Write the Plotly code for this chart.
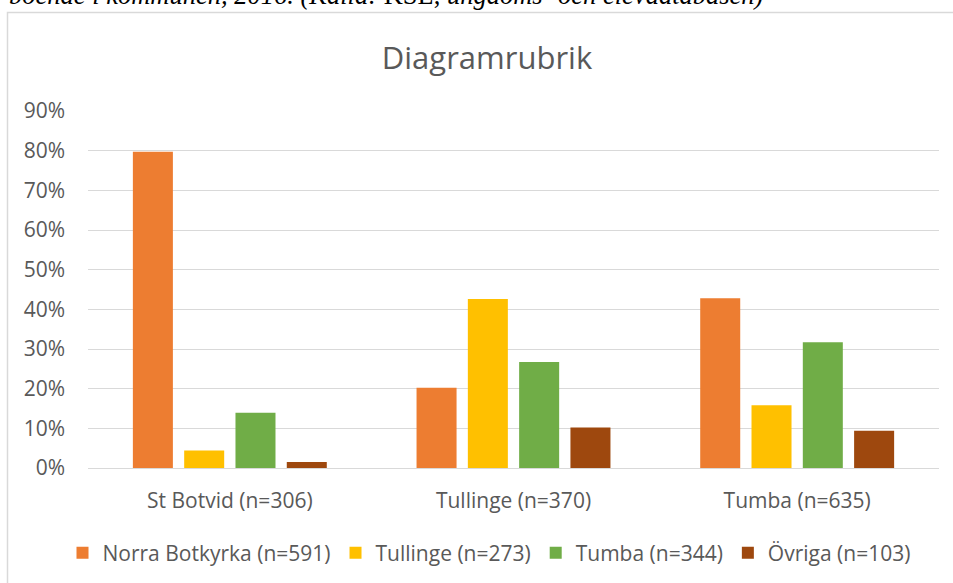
import plotly.graph_objects as go

categories = ["St Botvid (n=306)", "Tullinge (n=370)", "Tumba (n=635)"]
series_names = ["Norra Botkyrka (n=591)", "Tullinge (n=273)", "Tumba (n=344)", "Övriga (n=103)"]
norra_botkyrka = [0.797, 0.202, 0.428]
tullinge = [0.044, 0.426, 0.158]
tumba = [0.139, 0.267, 0.317]
ovriga = [0.015, 0.102, 0.094]
colors = ["#ED7D31", "#FFC000", "#70AD47", "#9E480E"]
y_ticks = [0, 0.1, 0.2, 0.3, 0.4, 0.5, 0.6, 0.7, 0.8, 0.9]

title_text = "Diagramrubrik"
caption_text = ("<i>boende i kommunen, 2016. (Källa: </i>KSL, "
                "<i>ungdoms- och elevdatabasen)</i>")

FONT = "Open Sans"
GREY = "#595959"

fig = go.Figure()
for name, vals, col in zip(series_names, [norra_botkyrka, tullinge, tumba, ovriga], colors):
    fig.add_trace(go.Bar(x=categories, y=vals, name=name, marker=dict(color=col, line=dict(width=0))))

W, H = 953, 583
ml, mr, mt, mb = 88, 14, 111, 115
pw, ph = W - ml - mr, H - mt - mb


def px_x(px):
    return (px - ml) / pw


def px_y(py):
    return (H - mb - py) / ph


fig.update_layout(
    width=W, height=H,
    margin=dict(l=ml, r=mr, t=mt, b=mb, pad=0, autoexpand=False),
    paper_bgcolor="white", plot_bgcolor="white",
    font=dict(family=FONT, color=GREY, size=21),
    barmode="group", bargap=0.2766, bargroupgap=0.22,
    title=dict(text=title_text, x=px_x(487), xref="paper", xanchor="center",
               y=1 - 58 / H, yref="container", yanchor="middle",
               font=dict(family=FONT, size=31, color=GREY)),
    xaxis=dict(showgrid=False, showline=True, linecolor="#D9D9D9", linewidth=1, automargin=False,
               ticks="", ticklabelstandoff=14, tickfont=dict(size=21, color=GREY)),
    yaxis=dict(range=[0, 0.9], tickvals=y_ticks, tickformat=".0%", automargin=False,
               showgrid=True, gridcolor="#D9D9D9", gridwidth=1,
               zeroline=False, showline=False, ticks="", ticklabelstandoff=22,
               tickfont=dict(size=21, color=GREY)),
    legend=dict(orientation="h", x=px_x(489), xanchor="center",
                yref="container", y=1 - 553 / H, yanchor="middle",
                font=dict(size=21, color=GREY), itemwidth=30, traceorder="normal"),
    shapes=[dict(type="rect", xref="paper", yref="paper",
                 x0=px_x(7.5), x1=px_x(1000), y0=px_y(12.5), y1=px_y(650),
                 line=dict(color="#D9D9D9", width=1.5), fillcolor="rgba(0,0,0,0)", layer="below")],
    annotations=[dict(text=caption_text, xref="paper", yref="paper", x=px_x(7), y=px_y(12),
                      xanchor="left", yanchor="bottom", showarrow=False,
                      font=dict(family="Liberation Serif", size=26.5, color="black"))],
)

fig.write_html("out.html", config={"displayModeBar": False},
               post_script="document.body.style.margin='0';")
